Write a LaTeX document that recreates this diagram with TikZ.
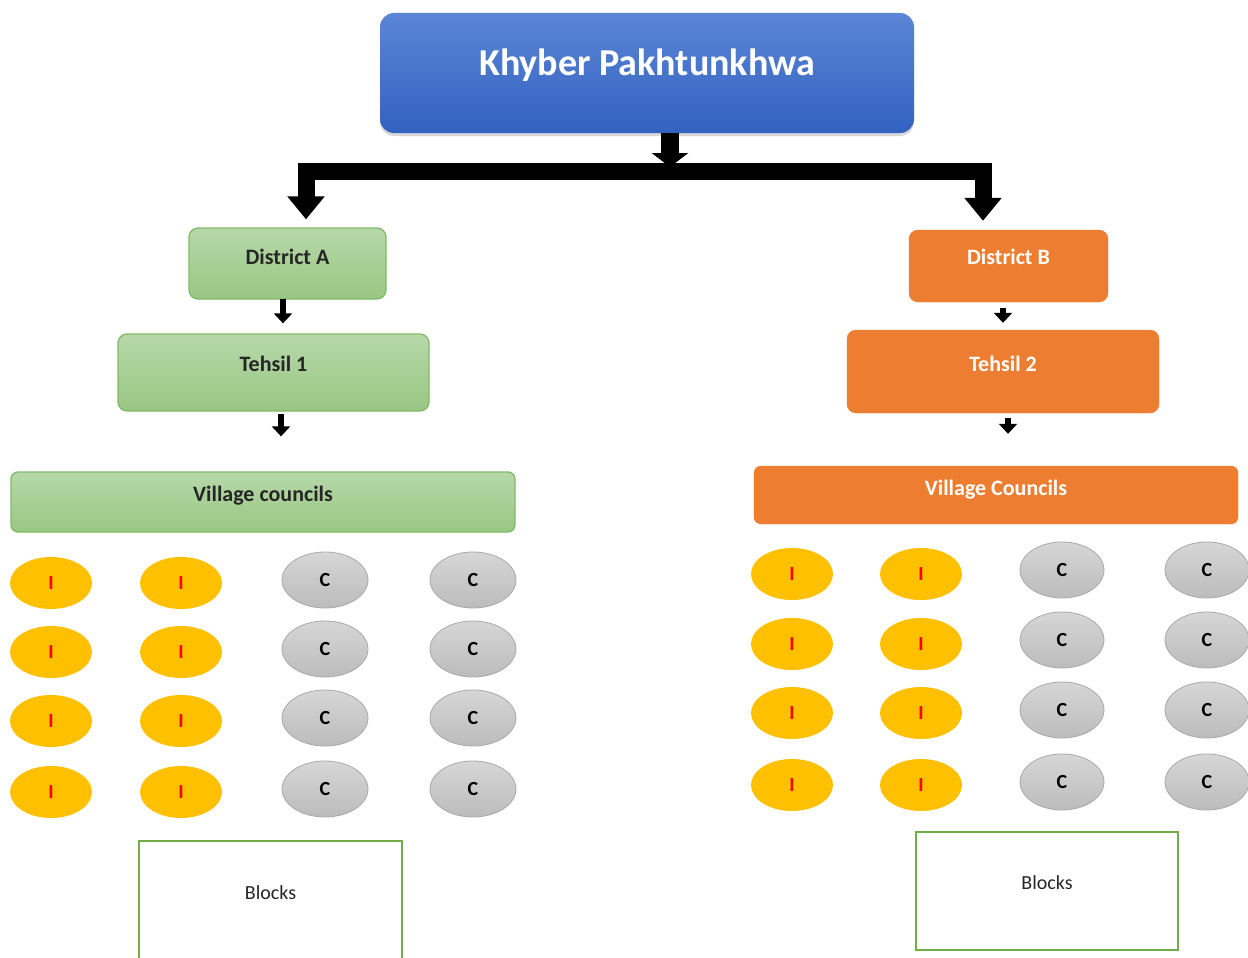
\documentclass[tikz,border=0pt]{standalone}
\usepackage{fontspec}
\setmainfont{Carlito}
\usetikzlibrary{arrows.meta,shapes.geometric,shadows}
\definecolor{kpTop}{HTML}{5B86D6}
\definecolor{kpBot}{HTML}{3361C0}
\definecolor{grTop}{HTML}{B7D8AA}
\definecolor{grBot}{HTML}{98C782}
\definecolor{grLine}{HTML}{82BA68}
\definecolor{orFill}{HTML}{ED7D31}
\definecolor{ylFill}{HTML}{FFC000}
\definecolor{gyTop}{HTML}{D6D6D6}
\definecolor{gyBot}{HTML}{BCBCBC}
\definecolor{gyLine}{HTML}{A9A9A9}
\definecolor{blkLine}{HTML}{70AD47}
\definecolor{txtDark}{HTML}{262626}
\tikzset{
  kpbox/.style={draw=none, rounded corners=14pt, top color=kpTop, bottom color=kpBot,
    minimum width=534pt, minimum height=120pt,
    drop shadow={shadow xshift=0pt, shadow yshift=-3pt, opacity=0.25, fill=black!60}},
  greenbox/.style={draw=grLine, line width=1.3pt, rounded corners=9pt, top color=grTop, bottom color=grBot},
  orangebox/.style={draw=orFill, fill=orFill, rounded corners=9pt},
  boxtext/.style={font=\bfseries\fontsize{22}{24}\selectfont, text=txtDark},
  wboxtext/.style={font=\bfseries\fontsize{22}{24}\selectfont, text=white},
  iell/.style={ellipse, fill=ylFill, draw=none, minimum width=82pt, minimum height=52pt, inner sep=0pt,
    font=\bfseries\fontsize{20}{22}\selectfont, text=red},
  cell/.style={ellipse, top color=gyTop, bottom color=gyBot, draw=gyLine, line width=0.8pt,
    minimum width=86pt, minimum height=56pt, inner sep=0pt,
    font=\bfseries\fontsize{20}{22}\selectfont, text=black},
  blockbox/.style={draw=blkLine, line width=2pt, fill=white},
  branch/.style={line width=17pt, line join=miter, -{Triangle[width=36pt,length=23pt]}},
  smallarr/.style={line width=6pt, -{Triangle[width=18pt,length=10pt]}}
}
\begin{document}
\begin{tikzpicture}[x=1pt,y=-1pt]
\useasboundingbox (0,0) rectangle (1248,958);
\fill[white] (0,0) rectangle (1248,958);

% top
\node[kpbox, label={[yshift=8pt, text=white, font=\bfseries\fontsize{38}{40}\selectfont]center:Khyber Pakhtunkhwa}] (kp) at (647,73) {};

% districts
\node[greenbox, minimum width=197pt, minimum height=71pt,
  label={[yshift=7pt, boxtext]center:District A}] (distA) at (287.5,263.5) {};
\node[orangebox, minimum width=199pt, minimum height=72pt,
  label={[yshift=9pt, wboxtext]center:District B}] (distB) at (1008.5,266) {};

% tehsils
\node[greenbox, minimum width=311pt, minimum height=77pt,
  label={[yshift=9pt, boxtext]center:Tehsil 1}] (teh1) at (273.5,372.5) {};
\node[orangebox, minimum width=312pt, minimum height=83pt,
  label={[yshift=8pt, wboxtext]center:Tehsil 2}] (teh2) at (1003,371.5) {};

% village councils
\node[greenbox, rounded corners=7pt, minimum width=504pt, minimum height=60pt,
  label={[yshift=6pt, boxtext]center:Village councils}] (vcA) at (263,502) {};
\node[orangebox, rounded corners=7pt, minimum width=484pt, minimum height=58pt,
  label={[yshift=5pt, wboxtext]center:Village Councils}] (vcB) at (996,495) {};

% connectors from top
\coordinate (jm) at (670,171);
\coordinate (ja) at (306,171);
\coordinate (jb) at (983,171);
\draw[branch, shorten >=4pt, -{Triangle[width=36pt,length=14pt]}, line width=18pt] (kp.south -| jm) -- (jm);
\draw[branch, shorten >=8pt] (jm) -- (ja) -- (ja |- distA.north);
\draw[branch, shorten >=9pt] (jm) -- (jb) -- (jb |- distB.north);

% small arrows
\draw[smallarr, shorten <=-1pt, shorten >=10pt] (distA.south -| 283,0) -- (teh1.north -| 283,0);
\draw[smallarr, shorten <=2pt, shorten >=35pt] (teh1.south -| 281,0) -- (vcA.north -| 281,0);
\draw[smallarr, shorten <=6pt, shorten >=7pt] (distB.south -| 1003,0) -- (teh2.north -| 1003,0);
\draw[smallarr, shorten <=5pt, shorten >=32pt] (teh2.south -| 1008,0) -- (vcB.north -| 1008,0);

% ellipses left
\foreach \r/\yi/\yc in {1/583/580, 2/652/649, 3/721/718, 4/792/789} {
  \node[iell] (lia\r) at (51,\yi) {I};
  \node[iell] (lib\r) at (181,\yi) {I};
  \node[cell] (lca\r) at (325,\yc) {C};
  \node[cell] (lcb\r) at (473,\yc) {C};
}
% ellipses right
\foreach \r/\yi/\yc in {1/574/570, 2/644/640, 3/713/710, 4/785/782} {
  \node[iell] (ria\r) at (792,\yi) {I};
  \node[iell] (rib\r) at (921,\yi) {I};
  \node[cell, minimum width=84pt] (rca\r) at (1062,\yc) {C};
  \node[cell, minimum width=84pt] (rcb\r) at (1207,\yc) {C};
}

% blocks
\node[blockbox, minimum width=263pt, minimum height=125pt,
  label={[yshift=11pt, font=\fontsize{20}{22}\selectfont, text=txtDark]center:Blocks}] (blkA) at (270.5,903.5) {};
\node[blockbox, minimum width=262pt, minimum height=118pt,
  label={[yshift=8pt, font=\fontsize{20}{22}\selectfont, text=txtDark]center:Blocks}] (blkB) at (1047,891) {};
\end{tikzpicture}
\end{document}
